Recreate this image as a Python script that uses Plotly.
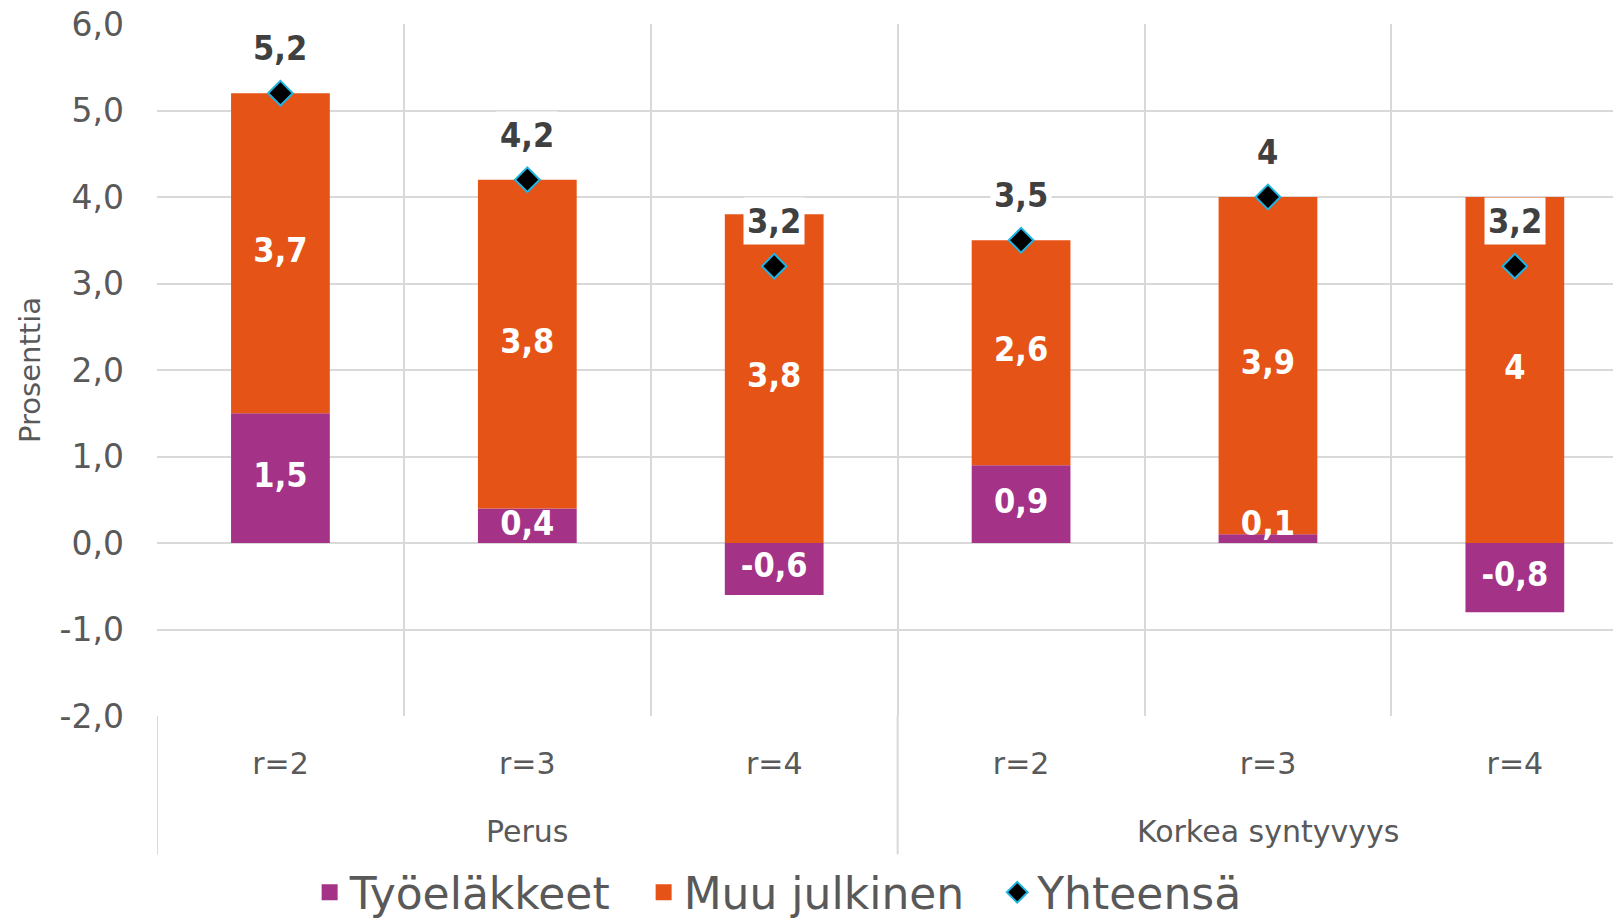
import plotly.graph_objects as go

groups = ["Perus", "Perus", "Perus", "Korkea syntyvyys", "Korkea syntyvyys", "Korkea syntyvyys"]
scenarios = ["r=2", "r=3", "r=4", "r=2", "r=3", "r=4"]
tyoelakkeet = [1.5, 0.4, -0.6, 0.9, 0.1, -0.8]
muu_julkinen = [3.7, 3.8, 3.8, 2.6, 3.9, 4.0]
yhteensa = [5.2, 4.2, 3.2, 3.5, 4.0, 3.2]
y_ticks = [-2, -1, 0, 1, 2, 3, 4, 5, 6]
series_names = ["Työeläkkeet", "Muu julkinen", "Yhteensä"]

PURPLE = "#A43287"
ORANGE = "#E65316"
GRAY = "#595959"
DARK = "#404040"
GRID = "#D9D9D9"
FONT = "DejaVu Sans"
FONT_C = "DejaVu Sans Condensed"
NBSP = "\u00a0"


def fmt(v):
    return ("%g" % v).replace(".", ",")


# two-level categories: unique key per bar, scenario shown as tick, group shown below
x = [g + " | " + s for g, s in zip(groups, scenarios)]

# label anchor positions, derived from the values (small segments: label sits on the base)
tyo_y, tyo_pos = [], []
for v in tyoelakkeet:
    if 0 <= v < 0.45:
        tyo_y.append(0)
        tyo_pos.append("top center")
    else:
        tyo_y.append(v / 2)
        tyo_pos.append("middle center")
muu_y = [max(t, 0) + m / 2 for t, m in zip(tyoelakkeet, muu_julkinen)]

fig = go.Figure()
fig.add_trace(go.Bar(
    x=x, y=tyoelakkeet, name=series_names[0], showlegend=False,
    marker=dict(color=PURPLE, line=dict(width=0)), width=0.4, hoverinfo="y",
))
fig.add_trace(go.Bar(
    x=x, y=muu_julkinen, name=series_names[1], showlegend=False,
    marker=dict(color=ORANGE, line=dict(width=0)), width=0.4, hoverinfo="y",
))
label_font = dict(family=FONT_C, size=34, color="white", weight="bold")
fig.add_trace(go.Scatter(
    x=x, y=tyo_y, mode="text", text=[fmt(v) for v in tyoelakkeet], textposition=tyo_pos,
    textfont=label_font, showlegend=False, hoverinfo="skip",
))
fig.add_trace(go.Scatter(
    x=x, y=muu_y, mode="text", text=[fmt(v) for v in muu_julkinen], textposition="middle center",
    textfont=label_font, showlegend=False, hoverinfo="skip",
))
# legend entries for the bar series (larger square swatches, as in the original)
for name, color in zip(series_names[:2], [PURPLE, ORANGE]):
    fig.add_trace(go.Scatter(
        x=[None], y=[None], mode="markers", name=name + NBSP * 2,
        marker=dict(symbol="square", size=26, color=color), hoverinfo="skip",
    ))
fig.add_trace(go.Scatter(
    x=x, y=yhteensa, name=series_names[2], mode="markers",
    marker=dict(symbol="diamond", size=19, color="black", line=dict(color="#1FB4E2", width=2)),
))

for i, v in enumerate(yhteensa):
    fig.add_annotation(
        x=i, y=v, text="<b>%s</b>" % fmt(v), showarrow=False, yshift=45,
        font=dict(family=FONT_C, size=34, color=DARK), bgcolor="white", borderpad=3,
    )

# group labels and group dividers below the category labels
group_names = []
for g in groups:
    if g not in group_names:
        group_names.append(g)
start = 0
boundaries = [-0.5]
for g in group_names:
    n = groups.count(g)
    fig.add_annotation(
        x=start + (n - 1) / 2, xref="x", y=0, yref="paper", yanchor="middle", yshift=-115,
        text=g, showarrow=False, font=dict(family=FONT, size=30, color=GRAY),
    )
    start += n
    boundaries.append(start - 0.5)
for b in boundaries:
    fig.add_shape(
        type="line", xref="x", yref="paper", x0=b, x1=b, y0=0, y1=-0.2,
        line=dict(color=GRID, width=2),
    )

# page body has an 8px margin: the figure is offset by 8px, so it is sized to end at the window edge
fig.update_layout(
    width=1613, height=912,
    barmode="relative",
    separators=", ",
    plot_bgcolor="white", paper_bgcolor="white",
    margin=dict(l=149, r=0, t=16, b=204, autoexpand=False),
    font=dict(family=FONT, color=GRAY),
    legend=dict(
        orientation="h", xref="container", yref="container", x=0.187, xanchor="left",
        y=0.03, yanchor="middle", font=dict(size=44, color=GRAY, family=FONT),
        traceorder="normal", itemwidth=30, itemsizing="trace",
    ),
    showlegend=True,
)
fig.update_xaxes(
    type="category", categoryorder="array", categoryarray=x, tickvals=x, ticktext=scenarios,
    tickson="boundaries", range=[-0.5, 5.43], showgrid=True, gridcolor=GRID, gridwidth=2,
    tickfont=dict(size=30, color=GRAY, family=FONT), ticks="", showline=False, zeroline=False,
    ticklabelstandoff=27, automargin=False,
)
fig.update_yaxes(
    range=[-2, 6], tickvals=y_ticks, ticktext=[("%.1f" % v).replace(".", ",") for v in y_ticks],
    showgrid=True, gridcolor=GRID, gridwidth=2, zeroline=True, zerolinecolor=GRID, zerolinewidth=2,
    tickfont=dict(size=33, color=GRAY, family=FONT), ticks="", ticklabelstandoff=32,
    ticklabeloverflow="allow", automargin=False,
    title=dict(text="Prosenttia", font=dict(size=29, color=GRAY, family=FONT), standoff=10),
)

fig.write_html("out.html")
